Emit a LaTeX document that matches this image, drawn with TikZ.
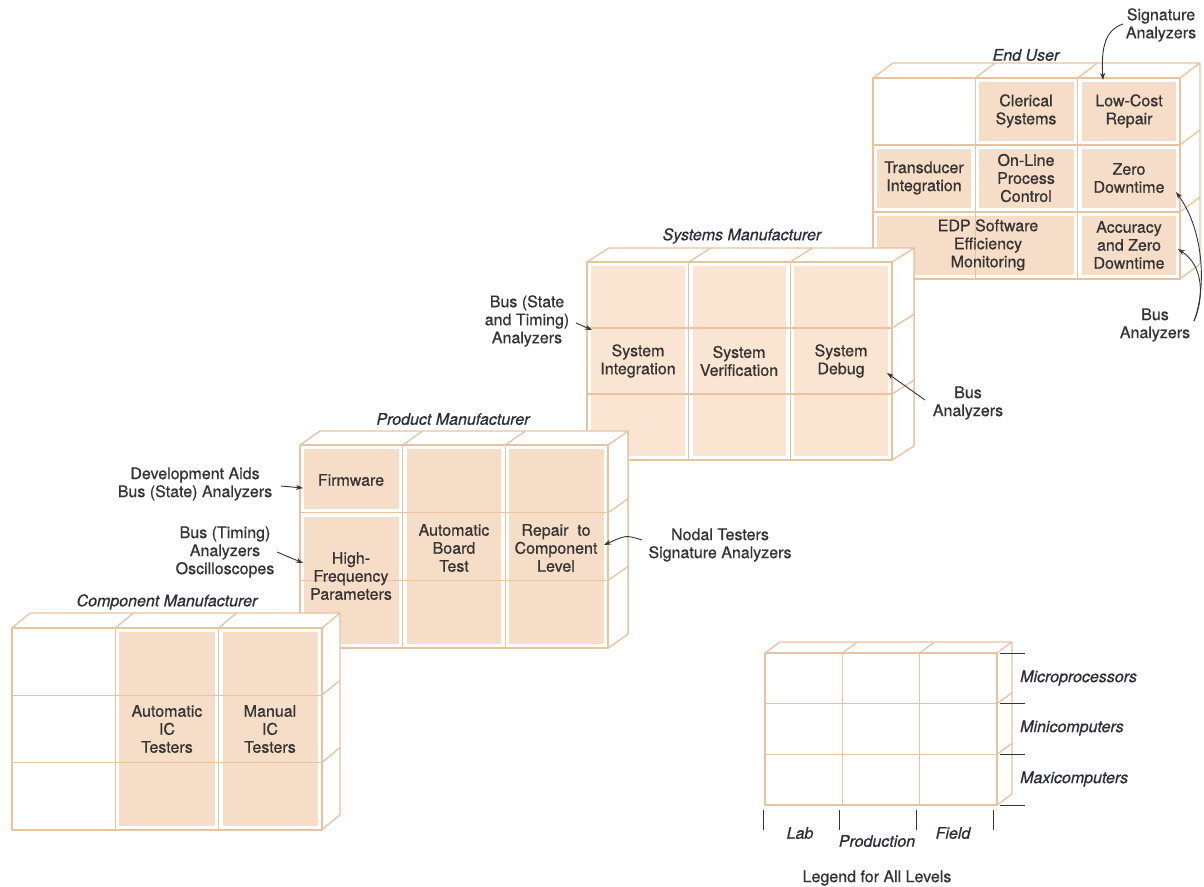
\documentclass[tikz,border=0pt]{standalone}
\usepackage{fontspec}
\setmainfont{TeX Gyre Heros}[FakeBold=0.7]
\usetikzlibrary{arrows.meta}
\definecolor{linec}{HTML}{E8C3A0}
\definecolor{fillc}{HTML}{F6DDC8}
\definecolor{fillsys}{HTML}{FAE4D2}
\definecolor{txt}{HTML}{363333}
\definecolor{ttl}{HTML}{2A2D3A}
\definecolor{arrc}{HTML}{333333}

\newcommand{\cellfill}[5][fillc]{%
 \fill[#1] ({\xa+(#2-1)*\bcw+4},{\ya+(#3-1)*\bch+4}) rectangle ({\xa+#4*\bcw-4},{\ya+#5*\bch-4});}

\newcommand{\cubeblock}[7]{%
 \pgfmathsetmacro{\xa}{#1}%
 \pgfmathsetmacro{\ya}{#2}%
 \pgfmathsetmacro{\bcw}{#3}%
 \pgfmathsetmacro{\bch}{#4}%
 \pgfmathsetmacro{\xb}{#1+#3}%
 \pgfmathsetmacro{\xc}{#1+2*#3}%
 \pgfmathsetmacro{\xd}{#1+3*#3}%
 \pgfmathsetmacro{\yb}{#2+#4}%
 \pgfmathsetmacro{\yc}{#2+2*#4}%
 \pgfmathsetmacro{\yd}{#2+3*#4}%
 \fill[white] (\xa,\ya) -- ++(#5,#6) -- ({\xd+#5},{\ya+#6}) -- ({\xd+#5},{\yd+#6}) -- (\xd,\yd) -- (\xa,\yd) -- cycle;
 #7%
 \draw[gridline] (\xa,\ya) rectangle (\xd,\yd);
 \draw[gridline] (\xb,\ya) -- (\xb,\yd) (\xc,\ya) -- (\xc,\yd) (\xa,\yb) -- (\xd,\yb) (\xa,\yc) -- (\xd,\yc);
 \draw[gridline] (\xa,\ya) -- ++(#5,#6) -- ({\xd+#5},{\ya+#6}) -- (\xd,\ya)
   (\xb,\ya) -- ++(#5,#6) (\xc,\ya) -- ++(#5,#6)
   ({\xd+#5},{\ya+#6}) -- ({\xd+#5},{\yd+#6}) -- (\xd,\yd)
   (\xd,\yb) -- ++(#5,#6) (\xd,\yc) -- ++(#5,#6);
}

\begin{document}
\begin{tikzpicture}[x=1pt,y=-1pt,
  gridline/.style={draw=linec, line width=1.3pt, line join=round},
  txtnode/.style={font=\fontsize{16}{18}\selectfont, text=txt, align=center, inner sep=0pt},
  ttlnode/.style={font=\fontsize{16}{18}\selectfont\itshape, text=ttl, align=center, inner sep=0pt},
  arr/.style={draw=arrc, line width=0.9pt, -{Stealth[length=7pt,width=5pt]}},
  tickline/.style={draw=arrc, line width=0.9pt}]
\fill[white] (0,0) rectangle (1204,886);
\useasboundingbox (0,0) rectangle (1204,886);

% ---------- End User ----------
\cubeblock{873}{78}{102.3}{67}{20}{-15}{%
  \cellfill{2}{1}{2}{1}\cellfill{3}{1}{3}{1}%
  \cellfill{1}{2}{1}{2}\cellfill{2}{2}{2}{2}\cellfill{3}{2}{3}{2}%
  \cellfill{1}{3}{2}{3}\cellfill{3}{3}{3}{3}}
\node[ttlnode] (eutitle) at (1026,55) {End User};
\node[txtnode] (clerical) at (1026,111) {Clerical\\Systems};
\node[txtnode] (lowcost) at (1129,111) {Low-Cost\\Repair};
\node[txtnode] (transducer) at (924,178) {Transducer\\Integration};
\node[txtnode] (online) at (1026,178) {On-Line\\Process\\Control};
\node[txtnode] (zerodown) at (1129,178) {Zero\\Downtime};
\node[txtnode] (edp) at (988,245) {EDP Software\\Efficiency\\Monitoring};
\node[txtnode] (accuracy) at (1129,245) {Accuracy\\and Zero\\Downtime};
\node[txtnode] (siganal) at (1161,25) {Signature\\Analyzers};
\node[txtnode] (busanal1) at (1155,325) {Bus\\Analyzers};
\coordinate (sigtip) at (1103,80);
\coordinate (zdtip) at (1176,192);
\coordinate (actip) at (1178,249);
\coordinate (basrc) at (1194,321);
\coordinate (sigsrc) at (1123,24);
\draw[arr] (sigsrc) .. controls (1105,30) and (1101,48) .. (sigtip);
\draw[arr] (basrc) .. controls (1206,290) and (1205,232) .. (zdtip);
\draw[arr] (basrc) .. controls (1204,298) and (1204,266) .. (actip);

% ---------- Systems Manufacturer ----------
\cubeblock{587}{262}{101.7}{66}{22}{-14}{%
  \cellfill[fillsys]{1}{1}{1}{3}\cellfill[fillsys]{2}{1}{2}{3}\cellfill[fillsys]{3}{1}{3}{3}}
\node[ttlnode] (systitle) at (742,236) {Systems Manufacturer};
\node[txtnode] (sysint) at (638,361) {System\\Integration};
\node[txtnode] (sysver) at (739,361) {System\\Verification};
\node[txtnode] (sysdbg) at (841,361) {System\\Debug};
\node[txtnode] (busst) at (527,321) {Bus (State\\and Timing)\\Analyzers};
\node[txtnode] (busanal2) at (968,403) {Bus\\Analyzers};
\coordinate (busstsrc) at (576,323);
\coordinate (bussttip) at (592,330);
\coordinate (dbgsrc) at (925,400);
\coordinate (dbgtip) at (887,373);
\draw[arr] (busstsrc) -- (bussttip);
\draw[arr] (dbgsrc) -- (dbgtip);

% ---------- Product Manufacturer ----------
\cubeblock{300}{445}{102.7}{67.7}{20}{-14}{%
  \cellfill{1}{1}{1}{1}\cellfill{1}{2}{1}{3}\cellfill{2}{1}{2}{3}\cellfill{3}{1}{3}{3}}
\node[ttlnode] (prodtitle) at (453,419) {Product Manufacturer};
\node[txtnode] (firmware) at (351,480) {Firmware};
\node[txtnode] (highfreq) at (351,576) {High-\\Frequency\\Parameters};
\node[txtnode] (autoboard) at (454,548) {Automatic\\Board\\Test};
\node[txtnode] (repair) at (556,548) {Repair\ \ to\\Component\\Level};
\node[txtnode] (devaids) at (195,484) {Development Aids\\Bus (State) Analyzers};
\node[txtnode] (bustim) at (225,552) {Bus (Timing)\\Analyzers\\Oscilloscopes};
\node[txtnode] (nodal) at (720,545) {Nodal Testers\\Signature Analyzers};
\coordinate (devsrc) at (281,486);
\coordinate (devtip) at (303,488);
\coordinate (timsrc) at (277,552);
\coordinate (timtip) at (303,563);
\coordinate (nodsrc) at (642,540);
\coordinate (nodtip) at (604,545);
\draw[arr] (devsrc) -- (devtip);
\draw[arr] (timsrc) -- (timtip);
\draw[arr] (nodsrc) .. controls (626,535) .. (nodtip);

% ---------- Component Manufacturer ----------
\cubeblock{12}{628}{103.3}{67.3}{18}{-15}{%
  \cellfill{2}{1}{2}{3}\cellfill{3}{1}{3}{3}}
\node[ttlnode] (comptitle) at (167,602) {Component Manufacturer};
\node[txtnode] (autoic) at (167,729) {Automatic\\IC\\Testers};
\node[txtnode] (manic) at (270,729) {Manual\\IC\\Testers};

% ---------- Legend ----------
\cubeblock{765}{653}{77.3}{50.7}{15}{-11}{}
\foreach \yy [count=\i] in {653,703,754,805} {
  \coordinate (rt\i a) at (1000,\yy);
  \coordinate (rt\i b) at (1025,\yy);
  \draw[tickline] (rt\i a) -- (rt\i b);
}
\foreach \xx [count=\i] in {763,839,916,993} {
  \coordinate (bt\i a) at (\xx,810);
  \coordinate (bt\i b) at (\xx,830);
  \draw[tickline] (bt\i a) -- (bt\i b);
}
\node[ttlnode, anchor=west] (micro) at (1020,678) {Microprocessors};
\node[ttlnode, anchor=west] (mini) at (1020,728) {Minicomputers};
\node[ttlnode, anchor=west] (maxi) at (1020,779) {Maxicomputers};
\node[ttlnode] (lab) at (800,833) {Lab};
\node[ttlnode] (production) at (877,841) {Production};
\node[ttlnode] (field) at (953,833) {Field};
\node[txtnode] (legendtitle) at (877,878) {Legend for All Levels};
\end{tikzpicture}
\end{document}
